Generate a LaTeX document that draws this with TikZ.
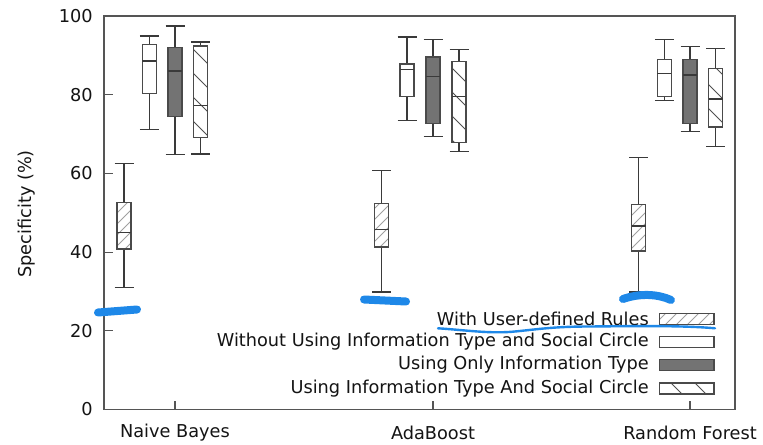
\documentclass[tikz,border=0pt]{standalone}
\usepackage{fontspec}
\setmainfont{DejaVu Sans}
\definecolor{framegray}{HTML}{555555}
\definecolor{whiskgray}{HTML}{3A3A3A}
\definecolor{boxgray}{HTML}{4A4A4A}
\definecolor{darkfill}{HTML}{737373}
\definecolor{hatchlight}{HTML}{A0A0A0}
\definecolor{hatchdark}{HTML}{505050}
\definecolor{textgray}{HTML}{141414}
\definecolor{markblue}{HTML}{1E88E8}

% vertical mapping: percent -> pixel row
\def\yzero{409.5}
\def\yscl{3.935}

% "/" hatching inside a rectangle: lines x+y=c
\newcommand{\hatchfw}[6]{%
  \begin{scope}
    \clip (#1,#2) rectangle (#3,#4);
    \pgfmathsetmacro\hcs{floor((#1+#2)/#5)*#5}
    \pgfmathsetmacro\hcn{\hcs+#5}
    \pgfmathsetmacro\hce{#3+#4+#5}
    \foreach \c in {\hcs,\hcn,...,\hce}{\draw[#6] (\c-#4,#4) -- (\c-#2,#2);}
  \end{scope}}
% "\" hatching inside a rectangle: lines x-y=c
\newcommand{\hatchbk}[6]{%
  \begin{scope}
    \clip (#1,#2) rectangle (#3,#4);
    \pgfmathsetmacro\hcs{floor((#1-#4)/#5)*#5}
    \pgfmathsetmacro\hcn{\hcs+#5}
    \pgfmathsetmacro\hce{#3-#2+#5}
    \foreach \c in {\hcs,\hcn,...,\hce}{\draw[#6] (\c+#2,#2) -- (\c+#4,#4);}
  \end{scope}}

% one box: #1 centre x, #2 min, #3 q1, #4 median, #5 q3, #6 max, #7 kind (1..4)
\newcommand{\bplot}[7]{%
  \pgfmathsetmacro\ya{\yzero-#2*\yscl}
  \pgfmathsetmacro\yb{\yzero-#3*\yscl}
  \pgfmathsetmacro\yc{\yzero-#4*\yscl}
  \pgfmathsetmacro\yd{\yzero-#5*\yscl}
  \pgfmathsetmacro\ye{\yzero-#6*\yscl}
  \pgfmathsetmacro\xl{#1-7}
  \pgfmathsetmacro\xr{#1+7}
  \pgfmathsetmacro\cl{#1-9.5}
  \pgfmathsetmacro\cright{#1+9.5}
  \draw[whisk] (#1,\ya) -- (#1,\yb) (#1,\yd) -- (#1,\ye)
               (\cl,\ya) -- (\cright,\ya) (\cl,\ye) -- (\cright,\ye);
  \ifcase#7\or
    \fill[white] (\xl,\yd) rectangle (\xr,\yb);
    \hatchfw{\xl}{\yd}{\xr}{\yb}{11}{hatchA}%
    \draw[boxline] (\xl,\yd) rectangle (\xr,\yb);
  \or
    \draw[boxline,fill=white] (\xl,\yd) rectangle (\xr,\yb);
  \or
    \draw[boxline,fill=darkfill] (\xl,\yd) rectangle (\xr,\yb);
  \or
    \fill[white] (\xl,\yd) rectangle (\xr,\yb);
    \hatchbk{\xl}{\yd}{\xr}{\yb}{24}{hatchB}%
    \draw[boxline] (\xl,\yd) rectangle (\xr,\yb);
  \fi
  \draw[medline] (\xl,\yc) -- (\xr,\yc);
}

\begin{document}
\begin{tikzpicture}[x=0.75pt,y=-0.75pt,
  font=\fontsize{13.3}{15}\selectfont,
  every node/.style={text=textgray, inner sep=0pt},
  frameline/.style={draw=framegray, line width=1.1pt},
  tickline/.style={draw=framegray, line width=0.8pt},
  whisk/.style={draw=whiskgray, line width=1pt},
  boxline/.style={draw=boxgray, line width=0.9pt},
  medline/.style={draw=whiskgray, line width=1.1pt},
  hatchA/.style={draw=hatchlight, line width=0.6pt},
  hatchB/.style={draw=hatchdark, line width=0.7pt},
  bluemark/.style={draw=markblue, line width=6pt, line cap=round},
  blueline/.style={draw=markblue, line width=1.8pt, line cap=round},
  legendtext/.style={anchor=east}]
\useasboundingbox (0,0) rectangle (763,445);
\fill[white] (0,0) rectangle (763,445);

% frame and ticks
\draw[frameline] (104,16) rectangle (735,409.5);
\foreach \v in {0,20,...,100}{
  \draw[tickline] (104,{409.5-\v*3.935}) -- (113,{409.5-\v*3.935});
  \node[anchor=east] (ylab\v) at (93,{409.5-\v*3.935}) {\v};
}
\foreach \t/\n in {175/nb,433/ada,690/rf}{
  \draw[tickline] (\t,409.5) -- (\t,400.5);
}
\node (xnb)  at (175,433) {Naive Bayes};
\node (xada) at (433,433) {AdaBoost};
\node (xrf)  at (690,433) {Random Forest};
\node[rotate=90] (ylabel) at (27,214) {Specificity (\%)};

% Naive Bayes
\bplot{124}{31}{40.8}{45}{52.7}{62.5}{1}
\bplot{149.25}{71.1}{80.3}{88.6}{92.8}{94.9}{2}
\bplot{175}{64.8}{74.4}{86}{91.9}{97.5}{3}
\bplot{200.75}{64.9}{69.1}{77.2}{92.4}{93.4}{4}
% AdaBoost
\bplot{381.5}{29.9}{41.3}{45.7}{52.3}{60.8}{1}
\bplot{407}{73.5}{79.6}{86.4}{87.8}{94.7}{2}
\bplot{433}{69.3}{72.7}{84.6}{89.6}{94.1}{3}
\bplot{459}{65.5}{67.8}{79.6}{88.4}{91.5}{4}
% Random Forest
\bplot{638.5}{29.9}{40.3}{46.6}{52.1}{64.0}{1}
\bplot{664.25}{78.6}{79.6}{85.4}{89.0}{94.0}{2}
\bplot{690}{70.6}{72.7}{85.0}{89.0}{92.2}{3}
\bplot{715.75}{66.9}{71.8}{78.9}{86.7}{91.8}{4}

% legend
\node[legendtext] (leg1) at (649,319)   {With User-defined Rules};
\node[legendtext] (leg2) at (649,342)   {Without Using Information Type and Social Circle};
\node[legendtext] (leg3) at (649,365)   {Using Only Information Type};
\node[legendtext] (leg4) at (649,388.5) {Using Information Type And Social Circle};
\hatchfw{659.5}{313.5}{714}{324.5}{11}{hatchA}
\draw[boxline] (659.5,313.5) rectangle (714,324.5);
\draw[boxline,fill=white] (659.5,336.5) rectangle (714,347.5);
\draw[boxline,fill=darkfill] (659.5,359.5) rectangle (714,370.5);
\hatchbk{659.5}{383}{714}{394}{24}{hatchB}
\draw[boxline] (659.5,383) rectangle (714,394);

% hand-drawn blue marks
\draw[bluemark] (98,312.5) -- (137,309.5);
\draw[bluemark] (364,299.5) -- (406,301.5);
\draw[bluemark] (623,299) .. controls (640,293) and (658,294) .. (671,300);
\draw[blueline] (438,328.3) .. controls (465,330) and (490,334) .. (515,331.5)
  .. controls (540,329) and (555,326.5) .. (590,326.5)
  .. controls (640,326) and (685,325.5) .. (715,328.3);
\end{tikzpicture}
\end{document}
